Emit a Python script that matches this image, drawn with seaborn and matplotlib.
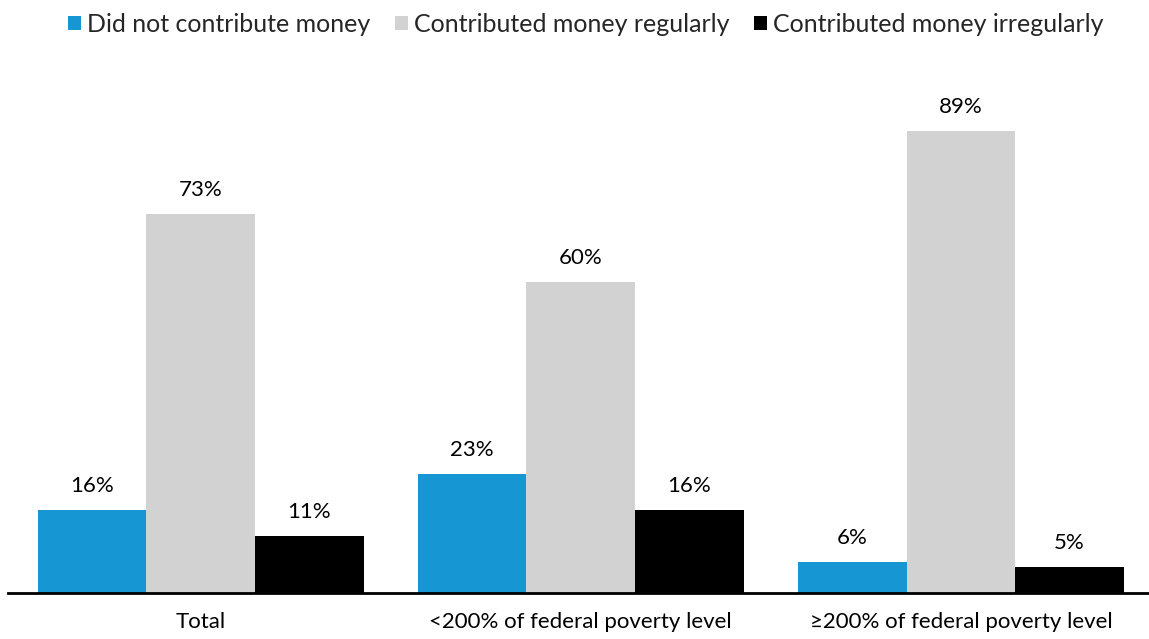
import matplotlib
matplotlib.use("Agg")
import matplotlib.pyplot as plt
import seaborn as sns
import pandas as pd

categories = ["Total", "<200% of federal poverty level", "≥200% of federal poverty level"]
series = ["Did not contribute money", "Contributed money regularly", "Contributed money irregularly"]
did_not = [16, 23, 6]
regularly = [73, 60, 89]
irregularly = [11, 16, 5]
colors = ["#1696d2", "#d2d2d2", "#000000"]

rows = []
for s, vals in zip(series, [did_not, regularly, irregularly]):
    for c, v in zip(categories, vals):
        rows.append({"category": c, "series": s, "value": v})
df = pd.DataFrame(rows)

sns.set_theme(style="white")
plt.rcParams['font.family'] = ['Lato', 'DejaVu Sans']

fig = plt.figure(figsize=(11.49, 6.39), dpi=100)
ax = fig.add_axes([8/1149, 1 - 593/639, (1149 - 8)/1149, (593 - 74)/639])

sns.barplot(data=df, x="category", y="value", hue="series", order=categories,
            hue_order=series, palette=colors, width=0.857, gap=0, ax=ax,
            saturation=1, legend=True, linewidth=0, edgecolor="none")

for cont in ax.containers:
    ax.bar_label(cont, labels=[f"{v:.0f}%" for v in cont.datavalues],
                 padding=10, fontsize=16, color="#000000")

ax.set_ylim(0, 100)
ax.set_xlim(-0.507, 2.495)
ax.set_xlabel("")
ax.set_ylabel("")
ax.set_yticks([])
for sp in ["top", "right", "left"]:
    ax.spines[sp].set_visible(False)
ax.spines["bottom"].set_color("#000000")
ax.spines["bottom"].set_linewidth(2)
ax.tick_params(axis="x", length=0, pad=14, labelsize=16, colors="#000000")

handles, labels = ax.get_legend_handles_labels()
ax.legend_.remove()
fig.legend(handles, labels, loc="upper center", bbox_to_anchor=(0.51, 1.0),
           ncol=3, frameon=False, fontsize=18, handlelength=0.5, handleheight=0.5,
           handletextpad=0.25, columnspacing=1.0, borderaxespad=0.1)

fig.savefig("out.png", dpi=100)
